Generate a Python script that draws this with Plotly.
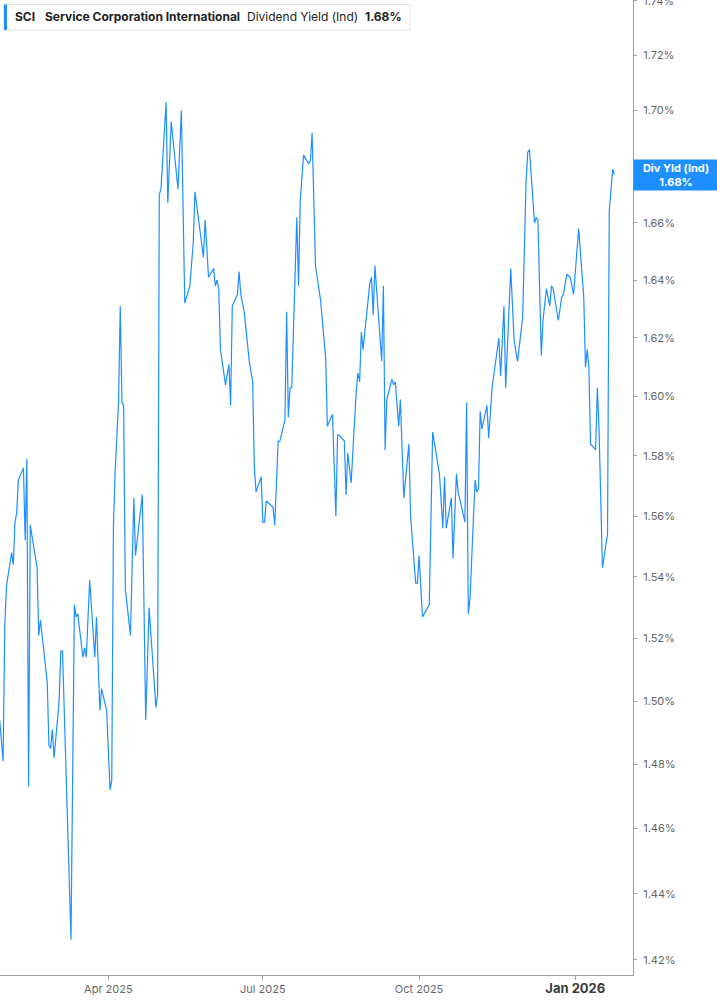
import math
import plotly.graph_objects as go

# ----------------------------------------------------------
# DATA
# ----------------------------------------------------------
dates = [
    "2025-01-27", "2025-01-29", "2025-01-30", "2025-01-31", "2025-02-03", "2025-02-04",
    "2025-02-05", "2025-02-06", "2025-02-07", "2025-02-10", "2025-02-11", "2025-02-12",
    "2025-02-13", "2025-02-14", "2025-02-18", "2025-02-19", "2025-02-20", "2025-02-24",
    "2025-02-25", "2025-02-26", "2025-02-27", "2025-02-28",
    "2025-03-03", "2025-03-04", "2025-03-05", "2025-03-10", "2025-03-12", "2025-03-13",
    "2025-03-14", "2025-03-17", "2025-03-18", "2025-03-19", "2025-03-21", "2025-03-24",
    "2025-03-25", "2025-03-27", "2025-03-28", "2025-03-31",
    "2025-04-02", "2025-04-03", "2025-04-04", "2025-04-05", "2025-04-07", "2025-04-08",
    "2025-04-09", "2025-04-10", "2025-04-11", "2025-04-14", "2025-04-16", "2025-04-17",
    "2025-04-21", "2025-04-23", "2025-04-25", "2025-04-29", "2025-04-30",
    "2025-05-01", "2025-05-02", "2025-05-05", "2025-05-06", "2025-05-08", "2025-05-12",
    "2025-05-14", "2025-05-16", "2025-05-19", "2025-05-21", "2025-05-22", "2025-05-27",
    "2025-05-28", "2025-05-30",
    "2025-06-02", "2025-06-03", "2025-06-04", "2025-06-05", "2025-06-06", "2025-06-09",
    "2025-06-11", "2025-06-12", "2025-06-13", "2025-06-16", "2025-06-17", "2025-06-18",
    "2025-06-20", "2025-06-23", "2025-06-25", "2025-06-26", "2025-06-27", "2025-06-30",
    "2025-07-01", "2025-07-02", "2025-07-03", "2025-07-07", "2025-07-08", "2025-07-10",
    "2025-07-11", "2025-07-14", "2025-07-15", "2025-07-16", "2025-07-17", "2025-07-18",
    "2025-07-20", "2025-07-21", "2025-07-22", "2025-07-23", "2025-07-25", "2025-07-28",
    "2025-07-29", "2025-07-30",
    "2025-08-01", "2025-08-04", "2025-08-07", "2025-08-08", "2025-08-11", "2025-08-13",
    "2025-08-14", "2025-08-15", "2025-08-18", "2025-08-19", "2025-08-20", "2025-08-22",
    "2025-08-25", "2025-08-26", "2025-08-27", "2025-08-28", "2025-08-29", "2025-08-31",
    "2025-09-02", "2025-09-03", "2025-09-04", "2025-09-05", "2025-09-09", "2025-09-10",
    "2025-09-11", "2025-09-12", "2025-09-15", "2025-09-16", "2025-09-17", "2025-09-19",
    "2025-09-20", "2025-09-22", "2025-09-25", "2025-09-26", "2025-09-29", "2025-09-30",
    "2025-10-01", "2025-10-03", "2025-10-07", "2025-10-09", "2025-10-13", "2025-10-15",
    "2025-10-16", "2025-10-17", "2025-10-20", "2025-10-21", "2025-10-23", "2025-10-24",
    "2025-10-28", "2025-10-29", "2025-10-30", "2025-10-31",
    "2025-11-03", "2025-11-04", "2025-11-05", "2025-11-06", "2025-11-07", "2025-11-10",
    "2025-11-11", "2025-11-13", "2025-11-17", "2025-11-18", "2025-11-20", "2025-11-21",
    "2025-11-24", "2025-11-26", "2025-11-28",
    "2025-12-01", "2025-12-03", "2025-12-04", "2025-12-05", "2025-12-08", "2025-12-09",
    "2025-12-10", "2025-12-12", "2025-12-13", "2025-12-15", "2025-12-17", "2025-12-18",
    "2025-12-19", "2025-12-22", "2025-12-24", "2025-12-25", "2025-12-27", "2025-12-29",
    "2025-12-31",
    "2026-01-03", "2026-01-06", "2026-01-07", "2026-01-08", "2026-01-09", "2026-01-10",
    "2026-01-13", "2026-01-14", "2026-01-15", "2026-01-17", "2026-01-20", "2026-01-21",
    "2026-01-23", "2026-01-24",
]

div_yield = [
    1.494, 1.481, 1.524, 1.537, 1.548, 1.544, 1.558, 1.561, 1.572, 1.576, 1.552, 1.579,
    1.473, 1.557, 1.543, 1.521, 1.526, 1.506, 1.486, 1.485, 1.491, 1.482,
    1.500, 1.516, 1.516, 1.426, 1.531, 1.527, 1.528, 1.514, 1.517, 1.514, 1.539, 1.514,
    1.527, 1.497, 1.504, 1.497,
    1.472, 1.475, 1.557, 1.575, 1.598, 1.631, 1.598, 1.597, 1.536, 1.521, 1.566, 1.547,
    1.567, 1.494, 1.530, 1.498, 1.502,
    1.670, 1.672, 1.703, 1.667, 1.696, 1.672, 1.700, 1.632, 1.638, 1.653, 1.671, 1.648,
    1.661, 1.641,
    1.644, 1.638, 1.640, 1.637, 1.616, 1.604, 1.611, 1.597, 1.631, 1.635, 1.643, 1.635,
    1.629, 1.612, 1.605, 1.576, 1.568, 1.573,
    1.558, 1.558, 1.565, 1.563, 1.557, 1.585, 1.585, 1.592, 1.629, 1.593, 1.603, 1.603,
    1.638, 1.662, 1.638, 1.668, 1.684, 1.681, 1.682, 1.692,
    1.645, 1.633, 1.613, 1.590, 1.594, 1.560, 1.587, 1.587, 1.585, 1.567, 1.581, 1.571,
    1.602, 1.608, 1.605, 1.622, 1.616, 1.628,
    1.639, 1.641, 1.628, 1.645, 1.612, 1.638, 1.582, 1.599, 1.606, 1.604, 1.605, 1.590,
    1.599, 1.566, 1.584, 1.560, 1.538, 1.538,
    1.547, 1.527, 1.531, 1.588, 1.574, 1.556, 1.573, 1.556, 1.566, 1.546, 1.574, 1.568,
    1.558, 1.598, 1.528, 1.533,
    1.572, 1.568, 1.569, 1.595, 1.589, 1.597, 1.586, 1.603, 1.620, 1.607, 1.631, 1.603,
    1.644, 1.619, 1.612,
    1.627, 1.674, 1.685, 1.686, 1.660, 1.662, 1.661, 1.614, 1.626, 1.637, 1.631, 1.638,
    1.637, 1.626, 1.634, 1.635, 1.642, 1.641, 1.635,
    1.658, 1.634, 1.610, 1.616, 1.610, 1.584, 1.582, 1.603, 1.589, 1.543, 1.554, 1.664,
    1.679, 1.677,
]

y_ticks = [1.42, 1.44, 1.46, 1.48, 1.50, 1.52, 1.54, 1.56, 1.58,
           1.60, 1.62, 1.64, 1.66, 1.68, 1.70, 1.72, 1.74]
y_tick_text = [f"{v:.2f}%" for v in y_ticks]

x_ticks = ["2025-04-01", "2025-07-01", "2025-10-01", "2026-01-01"]
x_tick_text = ["Apr 2025", "Jul 2025", "Oct 2025",
               "<span style='font-size:13px;color:#3a3a3a'><b>Jan 2026</b></span>"]

ticker = "SCI"
company = "Service Corporation International"
metric = "Dividend Yield (Ind)"
metric_short = "Div Yld (Ind)"

# ----------------------------------------------------------
# LAYOUT CONSTANTS
# ----------------------------------------------------------
W, H = 717, 1005
M_RIGHT, M_BOTTOM = 84, 30
PLOT_W, PLOT_H = W - M_RIGHT, H - M_BOTTOM

BLUE = "#1e8fff"
AXIS_GREY = "#9e9e9e"
TICK_FONT = dict(family="Inter, Roboto, sans-serif", size=11, color="#666666")


def px_x(px):
    return px / PLOT_W


def px_y(py):
    return 1 - py / PLOT_H


last_txt = f"{div_yield[-1]:.2f}%"

# ----------------------------------------------------------
# FIGURE
# ----------------------------------------------------------
fig = go.Figure(
    go.Scatter(
        x=dates,
        y=div_yield,
        mode="lines",
        line=dict(color=BLUE, width=1.2),
        hoverinfo="skip",
        showlegend=False,
    )
)

fig.update_layout(
    width=W,
    height=H,
    margin=dict(l=0, r=M_RIGHT, t=0, b=M_BOTTOM),
    paper_bgcolor="white",
    plot_bgcolor="white",
    font=dict(family="Inter, Roboto, sans-serif"),
    showlegend=False,
)

fig.update_xaxes(
    type="date",
    range=["2025-01-27 04:20", "2026-02-04 00:00"],
    tickvals=x_ticks,
    ticktext=x_tick_text,
    tickfont=TICK_FONT,
    automargin=False,
    showline=True,
    linecolor=AXIS_GREY,
    linewidth=1,
    ticks="outside",
    ticklen=4,
    tickcolor=AXIS_GREY,
    showgrid=False,
    zeroline=False,
)

fig.update_yaxes(
    type="log",
    side="right",
    range=[math.log10(1.4154), math.log10(1.7403)],
    tickvals=y_ticks,
    ticktext=y_tick_text,
    tickfont=TICK_FONT,
    ticklabeloverflow="allow",
    automargin=False,
    showline=True,
    linecolor=AXIS_GREY,
    linewidth=1,
    ticks="outside",
    ticklen=3,
    tickcolor=AXIS_GREY,
    ticklabelstandoff=4,
    showgrid=False,
    zeroline=False,
)

# header box
fig.add_shape(
    type="rect", xref="paper", yref="paper",
    x0=px_x(4), x1=px_x(410), y0=px_y(30), y1=px_y(4.5),
    line=dict(color="#e4e4e4", width=1), fillcolor="white", layer="above",
)
fig.add_shape(
    type="rect", xref="paper", yref="paper",
    x0=px_x(4), x1=px_x(7), y0=px_y(30), y1=px_y(4.5),
    line=dict(width=0), fillcolor=BLUE, layer="above",
)

header_parts = [
    (12.5, f"<b>{ticker}</b>"),
    (42.5, f"<b>{company}</b>"),
    (245, metric),
    (362.5, f"<b>{last_txt}</b>"),
]
for px, txt in header_parts:
    fig.add_annotation(
        x=px_x(px), y=px_y(16.5), xref="paper", yref="paper",
        xanchor="left", yanchor="middle",
        text=txt, showarrow=False,
        font=dict(family="Inter, Roboto, sans-serif", size=12, color="#222222"),
    )

# last value label on the right axis
fig.add_annotation(
    x=1, xref="paper", xanchor="left",
    y=math.log10(div_yield[-1]), yref="y", yanchor="middle",
    text=f"<b>{metric_short}</b><br><b>{last_txt}</b>",
    showarrow=False,
    align="center",
    width=80,
    height=26,
    borderpad=2,
    bgcolor=BLUE,
    font=dict(family="Inter, Roboto, sans-serif", size=11, color="white"),
)

# page body margin would push the figure 8px in; drop it
fig.write_html(
    "out.html",
    config={"displayModeBar": False},
    post_script="document.body.style.margin = '0px';",
)
